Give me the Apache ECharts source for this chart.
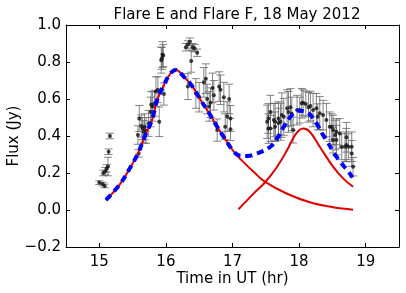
<!DOCTYPE html>
<html><head><meta charset="utf-8">
<script src="https://cdn.jsdelivr.net/npm/echarts@6/dist/echarts.min.js"></script>
<style>html,body{margin:0;padding:0;background:#fff}#c{width:406px;height:293px}</style>
</head><body><div id="c"></div>
<script>
// Observed flux (time UT hr, flux Jy, error Jy)
const obsTime = [15.00,15.05,15.08,15.06,15.09,15.11,15.13,15.14,15.16,
 15.59,15.58,15.60,15.63,15.65,15.68,15.70,15.67,15.74,15.77,15.78,15.80,15.83,15.85,15.88,15.90,15.97,
 15.93,15.94,15.95,15.96,
 16.30,16.33,16.36,16.40,16.43,16.47,16.38,
 16.33,16.45,16.50,16.57,16.60,16.62,16.65,16.67,16.70,16.72,16.77,16.80,16.82,16.87,16.89,16.92,16.95,16.97,16.97,
 17.52,17.54,17.54,17.57,17.57,17.62,17.64,17.64,17.69,17.69,17.72,17.74,17.77,17.82,17.84,17.87,17.89,17.91,17.97,
 18.01,18.04,18.06,18.10,18.14,18.17,18.21,18.26,18.28,18.31,18.36,18.41,18.46,18.49,18.51,18.51,18.54,18.56,18.56,
 18.61,18.64,18.69,18.71,18.71,18.74,18.79,18.79,18.81];
const obsFlux = [0.148,0.140,0.130,0.200,0.210,0.225,0.235,0.315,0.400,
 0.306,0.405,0.495,0.454,0.440,0.450,0.430,0.423,0.468,0.530,0.570,0.560,0.577,0.640,0.650,0.477,0.627,
 0.810,0.820,0.840,0.835,
 0.880,0.895,0.910,0.880,0.875,0.850,0.805,
 0.667,0.630,0.610,0.690,0.710,0.600,0.560,0.580,0.660,0.620,0.432,0.667,0.650,0.610,0.450,0.505,0.600,0.495,0.436,
 0.477,0.440,0.495,0.530,0.440,0.486,0.450,0.477,0.495,0.470,0.477,0.513,0.504,0.550,0.530,0.556,0.520,0.432,0.540,
 0.540,0.577,0.580,0.573,0.555,0.562,0.540,0.550,0.504,0.523,0.513,0.486,0.450,0.450,0.432,0.378,0.405,0.423,0.378,
 0.414,0.342,0.342,0.351,0.393,0.342,0.342,0.306,0.234];
const obsErr = [0.010,0.010,0.010,0.015,0.020,0.020,0.050,0.015,0.015,
 0.020,0.050,0.070,0.060,0.060,0.070,0.070,0.060,0.070,0.080,0.070,0.080,0.070,0.080,0.070,0.080,0.060,
 0.070,0.060,0.070,0.060,
 0.020,0.020,0.020,0.020,0.020,0.020,0.060,
 0.070,0.080,0.080,0.080,0.080,0.080,0.080,0.080,0.080,0.080,0.060,0.080,0.080,0.080,0.070,0.080,0.080,0.070,0.060,
 0.090,0.080,0.080,0.090,0.070,0.090,0.080,0.100,0.090,0.080,0.100,0.120,0.100,0.100,0.110,0.100,0.090,0.070,0.080,
 0.070,0.080,0.070,0.070,0.080,0.080,0.090,0.080,0.070,0.090,0.080,0.090,0.080,0.070,0.080,0.070,0.080,0.070,0.080,
 0.080,0.070,0.080,0.090,0.080,0.070,0.080,0.070,0.050];

// Model component: Flare E
const flareETime = [15.10,15.30,15.45,15.58,15.68,15.79,15.87,15.97,16.07,16.15,16.27,16.40,16.52,16.65,16.77,16.85,17.02,17.12,17.32,17.49,17.82,18.16,18.51,18.81];
const flareEFlux = [0.054,0.135,0.220,0.306,0.396,0.486,0.595,0.676,0.739,0.757,0.720,0.667,0.595,0.523,0.450,0.405,0.315,0.275,0.205,0.152,0.088,0.042,0.015,0.002];
// Model component: Flare F
const flareFTime = [17.09,17.32,17.49,17.67,17.82,17.94,18.06,18.16,18.31,18.51,18.66,18.81];
const flareFFlux = [0.004,0.090,0.150,0.234,0.324,0.405,0.440,0.423,0.342,0.234,0.171,0.126];
// Sum model
const sumTime = [15.10,15.30,15.45,15.58,15.68,15.79,15.87,15.97,16.07,16.15,16.27,16.40,16.52,16.65,16.77,16.85,17.02,17.10,17.22,17.37,17.57,17.67,17.77,17.87,17.99,18.14,18.26,18.36,18.41,18.56,18.76,18.80];
const sumFlux = [0.054,0.135,0.220,0.306,0.396,0.486,0.595,0.676,0.739,0.757,0.720,0.667,0.595,0.523,0.450,0.405,0.315,0.295,0.292,0.306,0.342,0.387,0.450,0.504,0.537,0.523,0.468,0.405,0.378,0.288,0.198,0.175];

const xTicks = [15,16,17,18,19];
const titleText = 'Flare E and Flare F, 18 May 2012';
const xName = 'Time in UT (hr)';
const yName = 'Flux (Jy)';

const zip = (a,b)=>a.map((v,i)=>[v,b[i]]);
const obs = obsTime.map((t,i)=>[t,obsFlux[i],obsErr[i]]);
const font = 'DejaVu Sans';
const chart = echarts.init(document.getElementById('c'));
const axisLine = {show:true,onZero:false,lineStyle:{color:'#000',width:1}};
chart.setOption({
  animation:false,
  backgroundColor:'#fff',
  title:{text:titleText,left:232,textAlign:'center',top:3,textStyle:{fontFamily:font,fontSize:15,fontWeight:'normal',color:'#000'}},
  grid:{left:66,right:7,top:25,bottom:46,containLabel:false,outerBoundsMode:'none'},
  xAxis:[{type:'value',min:14.5,max:19.5,position:'bottom',
    axisLine:axisLine,splitLine:{show:false},
    axisTick:{inside:true,length:4,customValues:xTicks,lineStyle:{color:'#000'}},
    axisLabel:{customValues:xTicks,fontFamily:font,fontSize:15,color:'#000',margin:8},
    name:xName,nameLocation:'middle',nameGap:25,nameMoveOverlap:false,nameTextStyle:{fontFamily:font,fontSize:15,color:'#000'}},
   {type:'value',min:14.5,max:19.5,position:'top',
    axisLine:axisLine,splitLine:{show:false},
    axisTick:{inside:true,length:4,customValues:xTicks,lineStyle:{color:'#000'}},
    axisLabel:{show:false}}],
  yAxis:[{type:'value',min:-0.2,max:1.0,interval:0.2,position:'left',
    axisLine:axisLine,splitLine:{show:false},
    axisTick:{inside:true,length:4,lineStyle:{color:'#000'}},
    axisLabel:{fontFamily:font,fontSize:15,color:'#000',margin:5,formatter:v=>(v<0?'\u2212':'')+Math.abs(v).toFixed(1)},
    name:yName,nameLocation:'middle',nameGap:44,nameRotate:90,nameMoveOverlap:false,nameTextStyle:{fontFamily:font,fontSize:15,color:'#000'}},
   {type:'value',min:-0.2,max:1.0,interval:0.2,position:'right',
    axisLine:axisLine,splitLine:{show:false},
    axisTick:{inside:true,length:4,lineStyle:{color:'#000'}},
    axisLabel:{show:false}}],
  series:[
    {type:'custom',data:obs,z:2,
     renderItem:(params,api)=>{
       const x=api.value(0),y=api.value(1),e=api.value(2);
       const top=api.coord([x,y+e]),bot=api.coord([x,y-e]);
       const st={stroke:'#666',lineWidth:0.8};
       return {type:'group',children:[
         {type:'line',shape:{x1:top[0],y1:top[1],x2:bot[0],y2:bot[1]},style:st},
         {type:'line',shape:{x1:top[0]-4,y1:top[1],x2:top[0]+4,y2:top[1]},style:st},
         {type:'line',shape:{x1:bot[0]-4,y1:bot[1],x2:bot[0]+4,y2:bot[1]},style:st}
       ]};
     }},
    {type:'scatter',data:obs.map(d=>[d[0],d[1]]),symbol:'circle',symbolSize:4,z:3,
     itemStyle:{color:'#111'}},
    {type:'line',data:zip(flareETime,flareEFlux),smooth:0.4,showSymbol:false,z:4,
     lineStyle:{color:'#e00000',width:2}},
    {type:'line',data:zip(flareFTime,flareFFlux),smooth:0.4,showSymbol:false,z:4,
     lineStyle:{color:'#e00000',width:2}},
    {type:'line',data:zip(sumTime,sumFlux),smooth:0.4,showSymbol:false,z:5,
     lineStyle:{color:'#0000ff',width:4,type:[7,5]}}
  ]
});
</script></body></html>
